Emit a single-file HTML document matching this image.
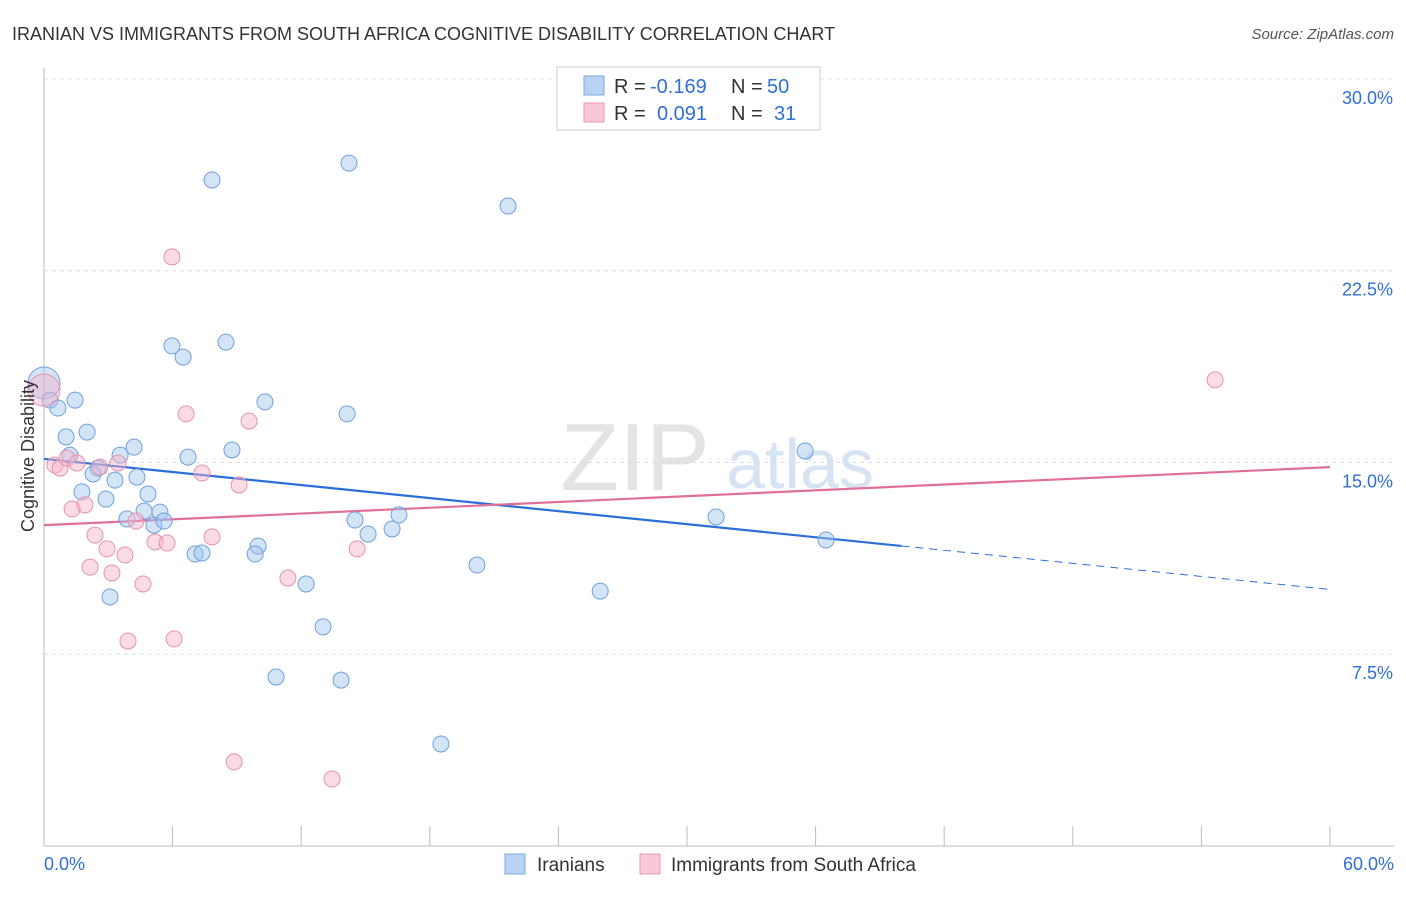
<!DOCTYPE html>
<html><head><meta charset="utf-8"><style>
body{margin:0;background:#fff;font-family:"Liberation Sans",sans-serif}
svg text{font-family:"Liberation Sans",sans-serif}
</style></head><body>
<svg id="chart" width="1406" height="892">
<text x="12" y="40" font-size="18" fill="#333">IRANIAN VS IMMIGRANTS FROM SOUTH AFRICA COGNITIVE DISABILITY CORRELATION CHART</text>
<text x="1394" y="39" font-size="15" fill="#555" font-style="italic" text-anchor="end">Source: ZipAtlas.com</text>
<g>
<text x="635" y="490" font-size="96" fill="#e4e4e4" font-family="Liberation Serif" text-anchor="middle">ZIP</text>
<text x="800" y="488" font-size="70" fill="#d6e3f2" text-anchor="middle">atlas</text>
</g>
<g id="grid"></g>
<g id="axes"></g>
<g id="trends"></g>
<g id="points"></g>
<text transform="translate(34,456) rotate(-90)" font-size="18" fill="#333" text-anchor="middle">Cognitive Disability</text>
<g>
<rect x="557" y="67" width="263" height="63" fill="#fff" stroke="#ccc"/>
<rect x="584" y="76" width="20" height="19" fill="#b7d2f2" stroke="#7aaae0"/>
<rect x="584" y="103" width="20" height="19" fill="#f9c7d7" stroke="#e89ab5"/>
<text x="614" y="93" font-size="20" fill="#333">R =</text>
<text x="650" y="93" font-size="20" fill="#2f6fd6">-0.169</text>
<text x="731" y="93" font-size="20" fill="#333">N =</text>
<text x="767" y="93" font-size="20" fill="#2f6fd6">50</text>
<text x="614" y="120" font-size="20" fill="#333">R =</text>
<text x="657" y="120" font-size="20" fill="#2f6fd6">0.091</text>
<text x="731" y="120" font-size="20" fill="#333">N =</text>
<text x="774" y="120" font-size="20" fill="#2f6fd6">31</text>
</g>
<g>
<rect x="505" y="854" width="20" height="20" fill="#b7d2f2" stroke="#7aaae0"/>
<text x="537" y="871" font-size="19" fill="#333">Iranians</text>
<rect x="640" y="854" width="20" height="20" fill="#f9c7d7" stroke="#e89ab5"/>
<text x="671" y="871" font-size="19" fill="#333">Immigrants from South Africa</text>
</g>
</svg>
<script>
const yTicks=[7.5,15,22.5,30];
const yTickLabels=["7.5%","15.0%","22.5%","30.0%"];
const xTicks=[0,6,12,18,24,30,36,42,48,54,60];
const xTickLabels=["0.0%","60.0%"];
const blueX=[0,0.28,0.65,1.45,1.03,2.01,1.21,2.52,2.29,3.31,1.77,2.89,4.34,4.2,3.55,4.85,3.87,4.67,5.41,5.13,5.6,5.97,6.49,7.84,8.49,6.72,8.77,10.31,9.99,9.85,7.05,7.37,3.08,12.23,13.02,10.83,13.86,14.23,14.14,14.51,15.12,16.24,16.56,18.52,20.2,21.65,25.95,31.36,35.51,36.49];
const blueY=[18.11,17.44,17.13,17.44,16.0,16.19,15.29,14.78,14.55,14.31,13.85,13.57,14.43,15.6,15.29,13.77,12.79,13.1,13.06,12.55,12.71,19.56,19.12,26.05,19.71,15.21,15.49,17.37,11.73,11.42,11.42,11.46,9.74,10.25,8.57,6.61,6.49,26.71,16.9,12.75,12.2,12.4,12.95,3.99,10.99,25.03,9.97,12.87,15.45,11.97];
const pinkX=[0,0.51,0.75,1.07,1.54,2.61,3.45,1.31,1.91,2.38,2.15,2.94,3.17,3.78,4.62,4.29,5.18,5.74,3.92,6.07,5.97,6.63,7.37,7.84,9.1,9.57,8.87,11.38,13.44,14.61,54.64];
const pinkY=[17.83,14.9,14.78,15.17,14.98,14.82,14.98,13.18,13.34,12.16,10.91,11.62,10.68,11.38,10.25,12.71,11.89,11.85,8.02,8.1,23.04,16.9,14.59,12.09,14.12,16.62,3.29,10.48,2.62,11.62,18.23];
const blueTrend=[15.14,-0.0851];
const pinkTrend=[12.55,0.0378];
const blueSolidEnd=40;

const NS="http://www.w3.org/2000/svg";
const X0=44,X1=1330,Y0=846,YPX=25.567;
const sx=v=>X0+(v/60)*(X1-X0);
const sy=v=>Y0-v*YPX;
function mk(tag,attrs,parent){const e=document.createElementNS(NS,tag);for(const k in attrs)e.setAttribute(k,attrs[k]);parent.appendChild(e);return e;}
const grid=document.getElementById('grid'),axes=document.getElementById('axes'),tr=document.getElementById('trends'),pts=document.getElementById('points');
yTicks.forEach((t,i)=>{
 const l=mk('line',{x1:X0,x2:1394,y1:sy(t),y2:sy(t),stroke:'#ddd','stroke-dasharray':'4,4'},grid);
 
 
 const tx=mk('text',{x:1393,y:sy(t)+25,'font-size':18,fill:'#2f6fd6','text-anchor':'end'},axes);
 tx.textContent=yTickLabels[i];
 
 
});
const ax=mk('line',{x1:X0,x2:X0,y1:68,y2:Y0,stroke:'#bbb'},axes);


const bx=mk('line',{x1:X0,x2:1394,y1:Y0,y2:Y0,stroke:'#bbb'},axes);


xTicks.forEach(t=>{
 const l=mk('line',{x1:sx(t),x2:sx(t),y1:Y0,y2:Y0-20,stroke:'#bbb'},axes);
 
 
});
[[0,'start',44],[60,'end',1394]].forEach((d,i)=>{
 const tx=mk('text',{x:d[2],y:870,'font-size':18,fill:'#2f6fd6','text-anchor':d[1]},axes);
 tx.textContent=xTickLabels[i];
 
 
});
function line(tr0,a,b,col,dash,name){
 const l=mk('line',{x1:sx(a),y1:sy(tr0[0]+tr0[1]*a),x2:sx(b),y2:sy(tr0[0]+tr0[1]*b),stroke:col,'stroke-width':dash?1:2.2},tr);
 if(dash)l.setAttribute('stroke-dasharray','8,6');
 
 
}
line(blueTrend,0,blueSolidEnd,'#2a6fd8',false,'iranians-trend-line');
line(blueTrend,blueSolidEnd,60,'#2a6fd8',true,'iranians-trend-extension');
line(pinkTrend,0,60,'#e0709a',false,'south-africa-trend-line');
function dots(xs,ys,fill,stroke,name){
 xs.forEach((x,i)=>{
  const c=mk('circle',{cx:sx(x),cy:sy(ys[i]),r:(x===0&&i===0)?16:8,fill:fill,stroke:stroke,'stroke-width':1},pts);
  
  
 });
}
dots(blueX,blueY,'rgba(160,196,238,0.45)','#6fa0dc','iranians-point');
dots(pinkX,pinkY,'rgba(246,178,200,0.45)','#e692b0','south-africa-point');
</script>
</body></html>
